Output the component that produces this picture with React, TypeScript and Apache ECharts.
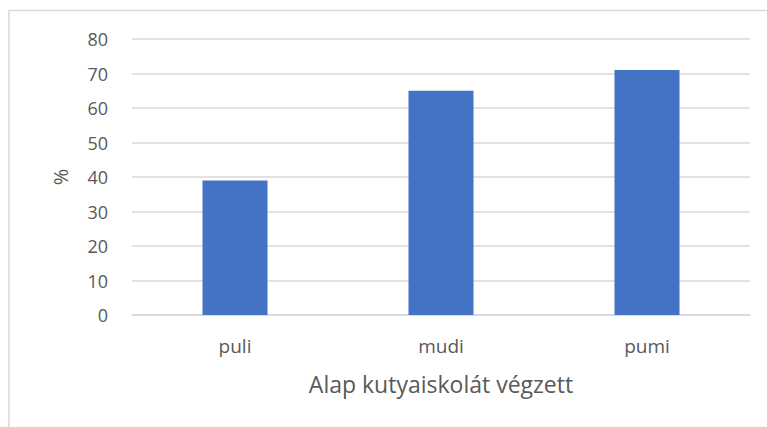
import React, { useEffect, useRef } from "react";
import * as echarts from "echarts";

const categories = ["puli", "mudi", "pumi"];
const values = [39, 65, 71];
const xTitle = "Alap kutyaiskolát végzett";
const yTitle = "%";

export default function App() {
  const ref = useRef<HTMLDivElement>(null);
  useEffect(() => {
    document.body.style.margin = "0";
    document.body.style.overflow = "hidden";
    const chart = echarts.init(ref.current!, null, { renderer: "svg" });
    const font = "'Open Sans', 'Noto Sans', sans-serif";
    chart.setOption({
      animation: false,
      backgroundColor: "#ffffff",
      grid: { left: 132, right: 17, top: 39, bottom: 112 },
      graphic: [
        { type: "line", shape: { x1: 9, y1: 10.5, x2: 767, y2: 10.5 }, style: { stroke: "#d9d9d9", lineWidth: 1.5 } },
        { type: "line", shape: { x1: 9, y1: 10, x2: 9, y2: 427 }, style: { stroke: "#d9d9d9", lineWidth: 1.5 } },
      ],
      xAxis: {
        type: "category",
        data: categories,
        axisLine: { show: true, lineStyle: { color: "#d9d9d9", width: 1.5 } },
        axisTick: { show: false },
        axisLabel: { color: "#595959", fontSize: 19, fontFamily: font, margin: 21 },
        name: xTitle,
        nameLocation: "middle",
        nameGap: 57,
        nameTextStyle: { color: "#595959", fontSize: 23, fontFamily: font },
      },
      yAxis: {
        type: "value",
        min: 0,
        max: 80,
        interval: 10,
        axisLine: { show: false },
        axisTick: { show: false },
        splitLine: { lineStyle: { color: "#d9d9d9", width: 1.5 } },
        axisLabel: { color: "#595959", fontSize: 18, fontFamily: font, margin: 24 },
        name: yTitle,
        nameLocation: "middle",
        nameGap: 62,
        nameRotate: 90,
        nameTextStyle: { color: "#595959", fontSize: 20, fontFamily: font },
      },
      series: [
        {
          type: "bar",
          data: values,
          barWidth: 65,
          itemStyle: { color: "#4472c4" },
        },
      ],
    });
    return () => chart.dispose();
  }, []);
  return <div ref={ref} style={{ width: 767, height: 427 }} />;
}
